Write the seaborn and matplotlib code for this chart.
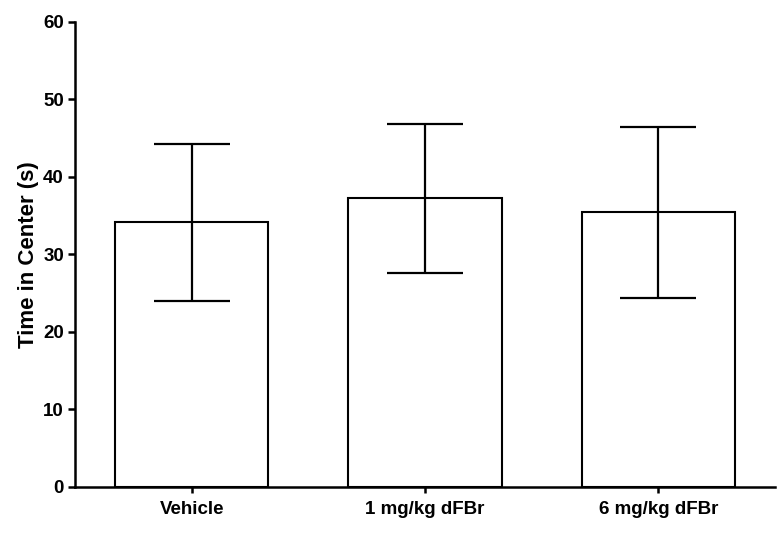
import matplotlib
matplotlib.use('Agg')
import matplotlib.pyplot as plt
import seaborn as sns
import pandas as pd

# values
groups = ['Vehicle', '1 mg/kg dFBr', '6 mg/kg dFBr']
means = [34.1, 37.2, 35.4]
errors = [10.1, 9.6, 11.0]
yticks = [0, 10, 20, 30, 40, 50, 60]

df = pd.DataFrame({'group': groups, 'time': means, 'err': errors})

sns.set_style('ticks')
plt.rcParams['font.family'] = ['Liberation Sans', 'DejaVu Sans']
plt.rcParams['font.weight'] = 'bold'

fig = plt.figure(figsize=(7.82, 5.38), dpi=100)
ax = fig.add_axes([0.096, 0.095, 0.895, 0.865])

sns.barplot(data=df, x='group', y='time', color='white', saturation=1,
            edgecolor='black', linewidth=1.5, width=0.656, ax=ax, zorder=2)
ax.errorbar(range(len(groups)), df['time'], yerr=df['err'], fmt='none',
            ecolor='black', elinewidth=1.6, capsize=27.5, capthick=1.6, zorder=3)

ax.set_xlim(-0.5, 2.5)
ax.set_ylim(0, 60)
ax.set_yticks(yticks)
ax.set_xlabel('')
ax.set_ylabel('Time in Center (s)', fontsize=16, fontweight='bold',
              color='black', labelpad=3)
sns.despine(ax=ax)
for s in ['left', 'bottom']:
    ax.spines[s].set_linewidth(1.8)
    ax.spines[s].set_color('black')
ax.tick_params(axis='y', length=5, width=1.8, pad=3, labelsize=13.5, colors='black')
ax.tick_params(axis='x', length=4.5, width=1.8, pad=6, labelsize=13.5, colors='black')
for lbl in ax.get_xticklabels() + ax.get_yticklabels():
    lbl.set_fontweight('bold')

fig.savefig('out.png', dpi=100)
